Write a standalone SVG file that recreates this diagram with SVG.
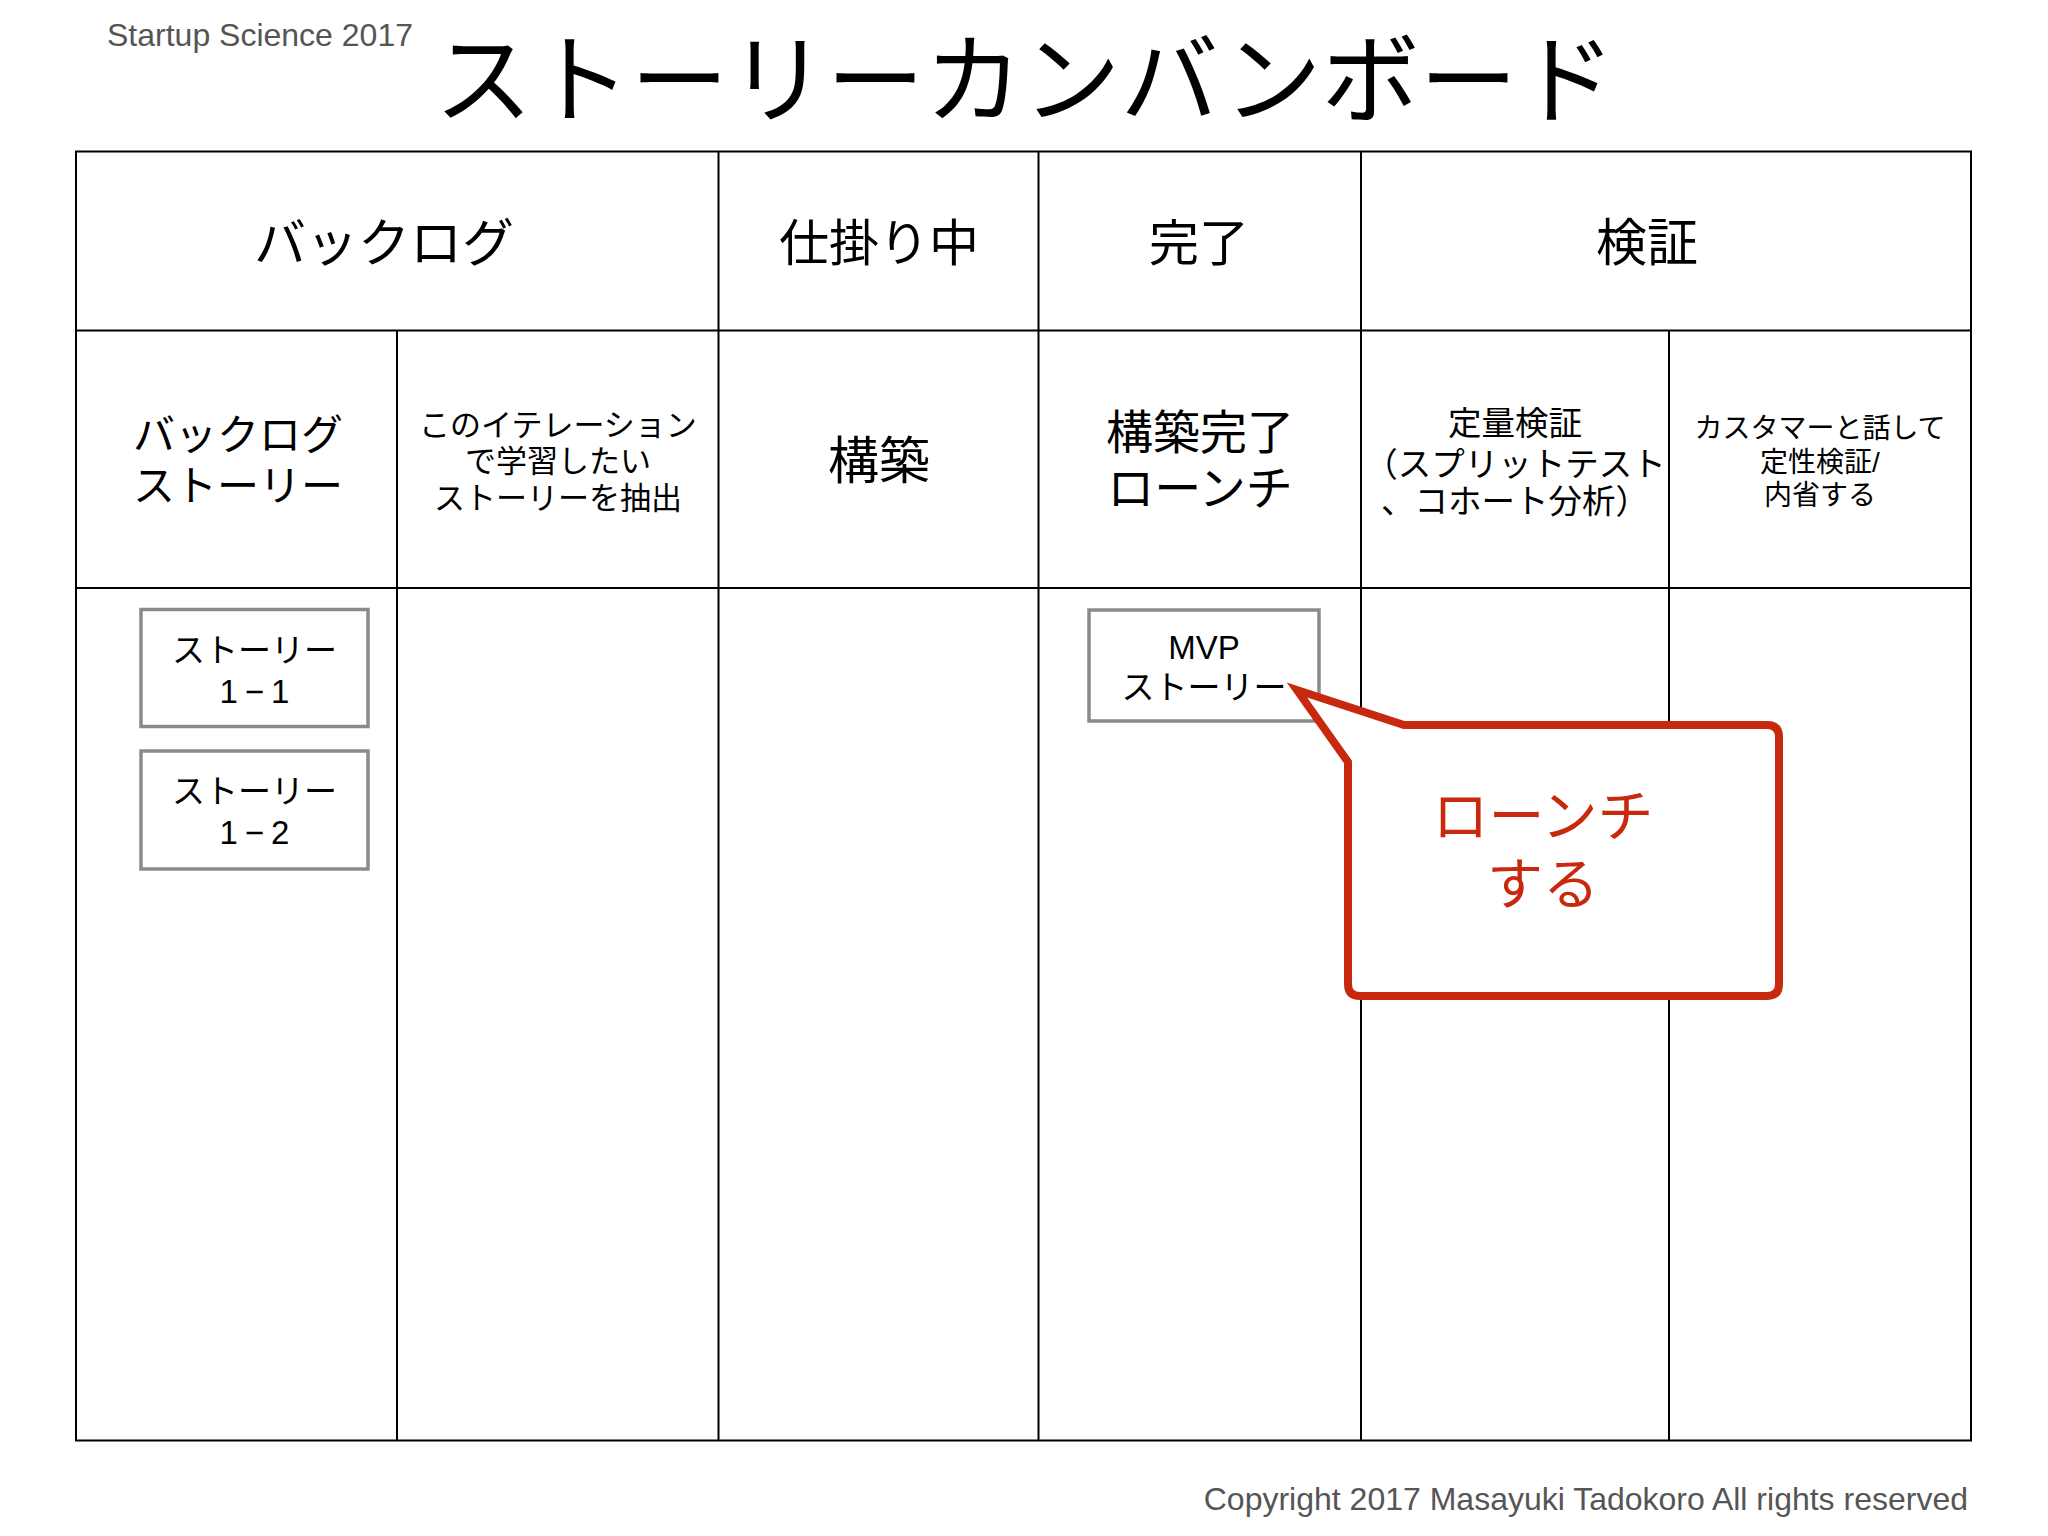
<svg xmlns="http://www.w3.org/2000/svg" width="2048" height="1536" viewBox="0 0 2048 1536">
<style>
.jp{font-family:"Liberation Sans","Noto Sans CJK JP",sans-serif;fill:#000;text-anchor:middle}
.grid{stroke:#000;stroke-width:2;fill:none}
.card{fill:#fff;stroke:#8a8a8a;stroke-width:3.5}
.num{letter-spacing:7px}
.note{font-family:"Liberation Sans",sans-serif;fill:#555;font-size:32px}
</style>
<rect width="2048" height="1536" fill="#fff"/>
<text class="note" x="107" y="46">Startup Science 2017</text>
<text class="jp" x="1025" y="115" font-size="98">ストーリーカンバンボード</text>
<g id="table">
<rect class="grid" x="76" y="151.5" width="1895" height="1289"/>
<line class="grid" x1="76" y1="330.5" x2="1971" y2="330.5"/>
<line class="grid" x1="76" y1="588" x2="1971" y2="588"/>
<line class="grid" x1="718.5" y1="151.5" x2="718.5" y2="1440.5"/>
<line class="grid" x1="1038.5" y1="151.5" x2="1038.5" y2="1440.5"/>
<line class="grid" x1="1361" y1="151.5" x2="1361" y2="1440.5"/>
<line class="grid" x1="397" y1="330.5" x2="397" y2="1440.5"/>
<line class="grid" x1="1669" y1="330.5" x2="1669" y2="1440.5"/>
</g>
<g id="h-backlog"><text class="jp" x="384" y="262" font-size="52">バックログ</text></g>
<g id="h-wip"><text class="jp" x="879" y="261" font-size="50">仕掛り中</text></g>
<g id="h-done"><text class="jp" x="1199" y="261" font-size="50">完了</text></g>
<g id="h-verify"><text class="jp" x="1647" y="261" font-size="51">検証</text></g>
<g id="s-backlog-story"><text class="jp" font-size="42"><tspan x="238" y="450">バックログ</tspan><tspan x="238" y="501">ストーリー</tspan></text></g>
<g id="s-iteration"><text class="jp" font-size="31"><tspan x="558" y="436">このイテレーション</tspan><tspan x="558" y="472">で学習したい</tspan><tspan x="558" y="508.5">ストーリーを抽出</tspan></text></g>
<g id="s-build"><text class="jp" x="879" y="479" font-size="51">構築</text></g>
<g id="s-launch"><text class="jp" font-size="47"><tspan x="1200" y="449">構築完了</tspan><tspan x="1200" y="505">ローンチ</tspan></text></g>
<g id="s-quant"><text class="jp" font-size="33.5"><tspan x="1515" y="434.5">定量検証</tspan><tspan x="1515" y="476">（スプリットテスト</tspan><tspan x="1515" y="512.5">、コホート分析）</tspan></text></g>
<g id="s-qual"><text class="jp" font-size="28"><tspan x="1820" y="438">カスタマーと話して</tspan><tspan x="1820" y="472">定性検証/</tspan><tspan x="1820" y="505">内省する</tspan></text></g>
<g id="card-1-1">
<rect class="card" x="141" y="609.5" width="227" height="117"/>
<text class="jp" font-size="33"><tspan x="254.5" y="661.5">ストーリー</tspan><tspan class="num" x="258" y="703">1−1</tspan></text>
</g>
<g id="card-1-2">
<rect class="card" x="141" y="751" width="227" height="118"/>
<text class="jp" font-size="33"><tspan x="254.5" y="802.5">ストーリー</tspan><tspan class="num" x="258" y="843.5">1−2</tspan></text>
</g>
<g id="card-mvp">
<rect class="card" x="1089" y="610" width="230" height="111"/>
<text class="jp" font-size="33"><tspan x="1204" y="658.5">MVP</tspan><tspan x="1204" y="699">ストーリー</tspan></text>
</g>
<g id="callout">
<path d="M1404 725 L1767 725 Q1779 725 1779 737 L1779 984 Q1779 996 1767 996 L1360 996 Q1348 996 1348 984 L1348 762 L1297 690 Z" fill="#fff" stroke="#c8290e" stroke-width="8" stroke-linejoin="miter" stroke-miterlimit="10"/>
<text class="jp" font-size="56" style="fill:#c8290e"><tspan x="1543" y="836">ローンチ</tspan><tspan x="1543" y="904">する</tspan></text>
</g>
<text class="note" x="1968" y="1510" text-anchor="end">Copyright 2017 Masayuki Tadokoro All rights reserved</text>
</svg>
